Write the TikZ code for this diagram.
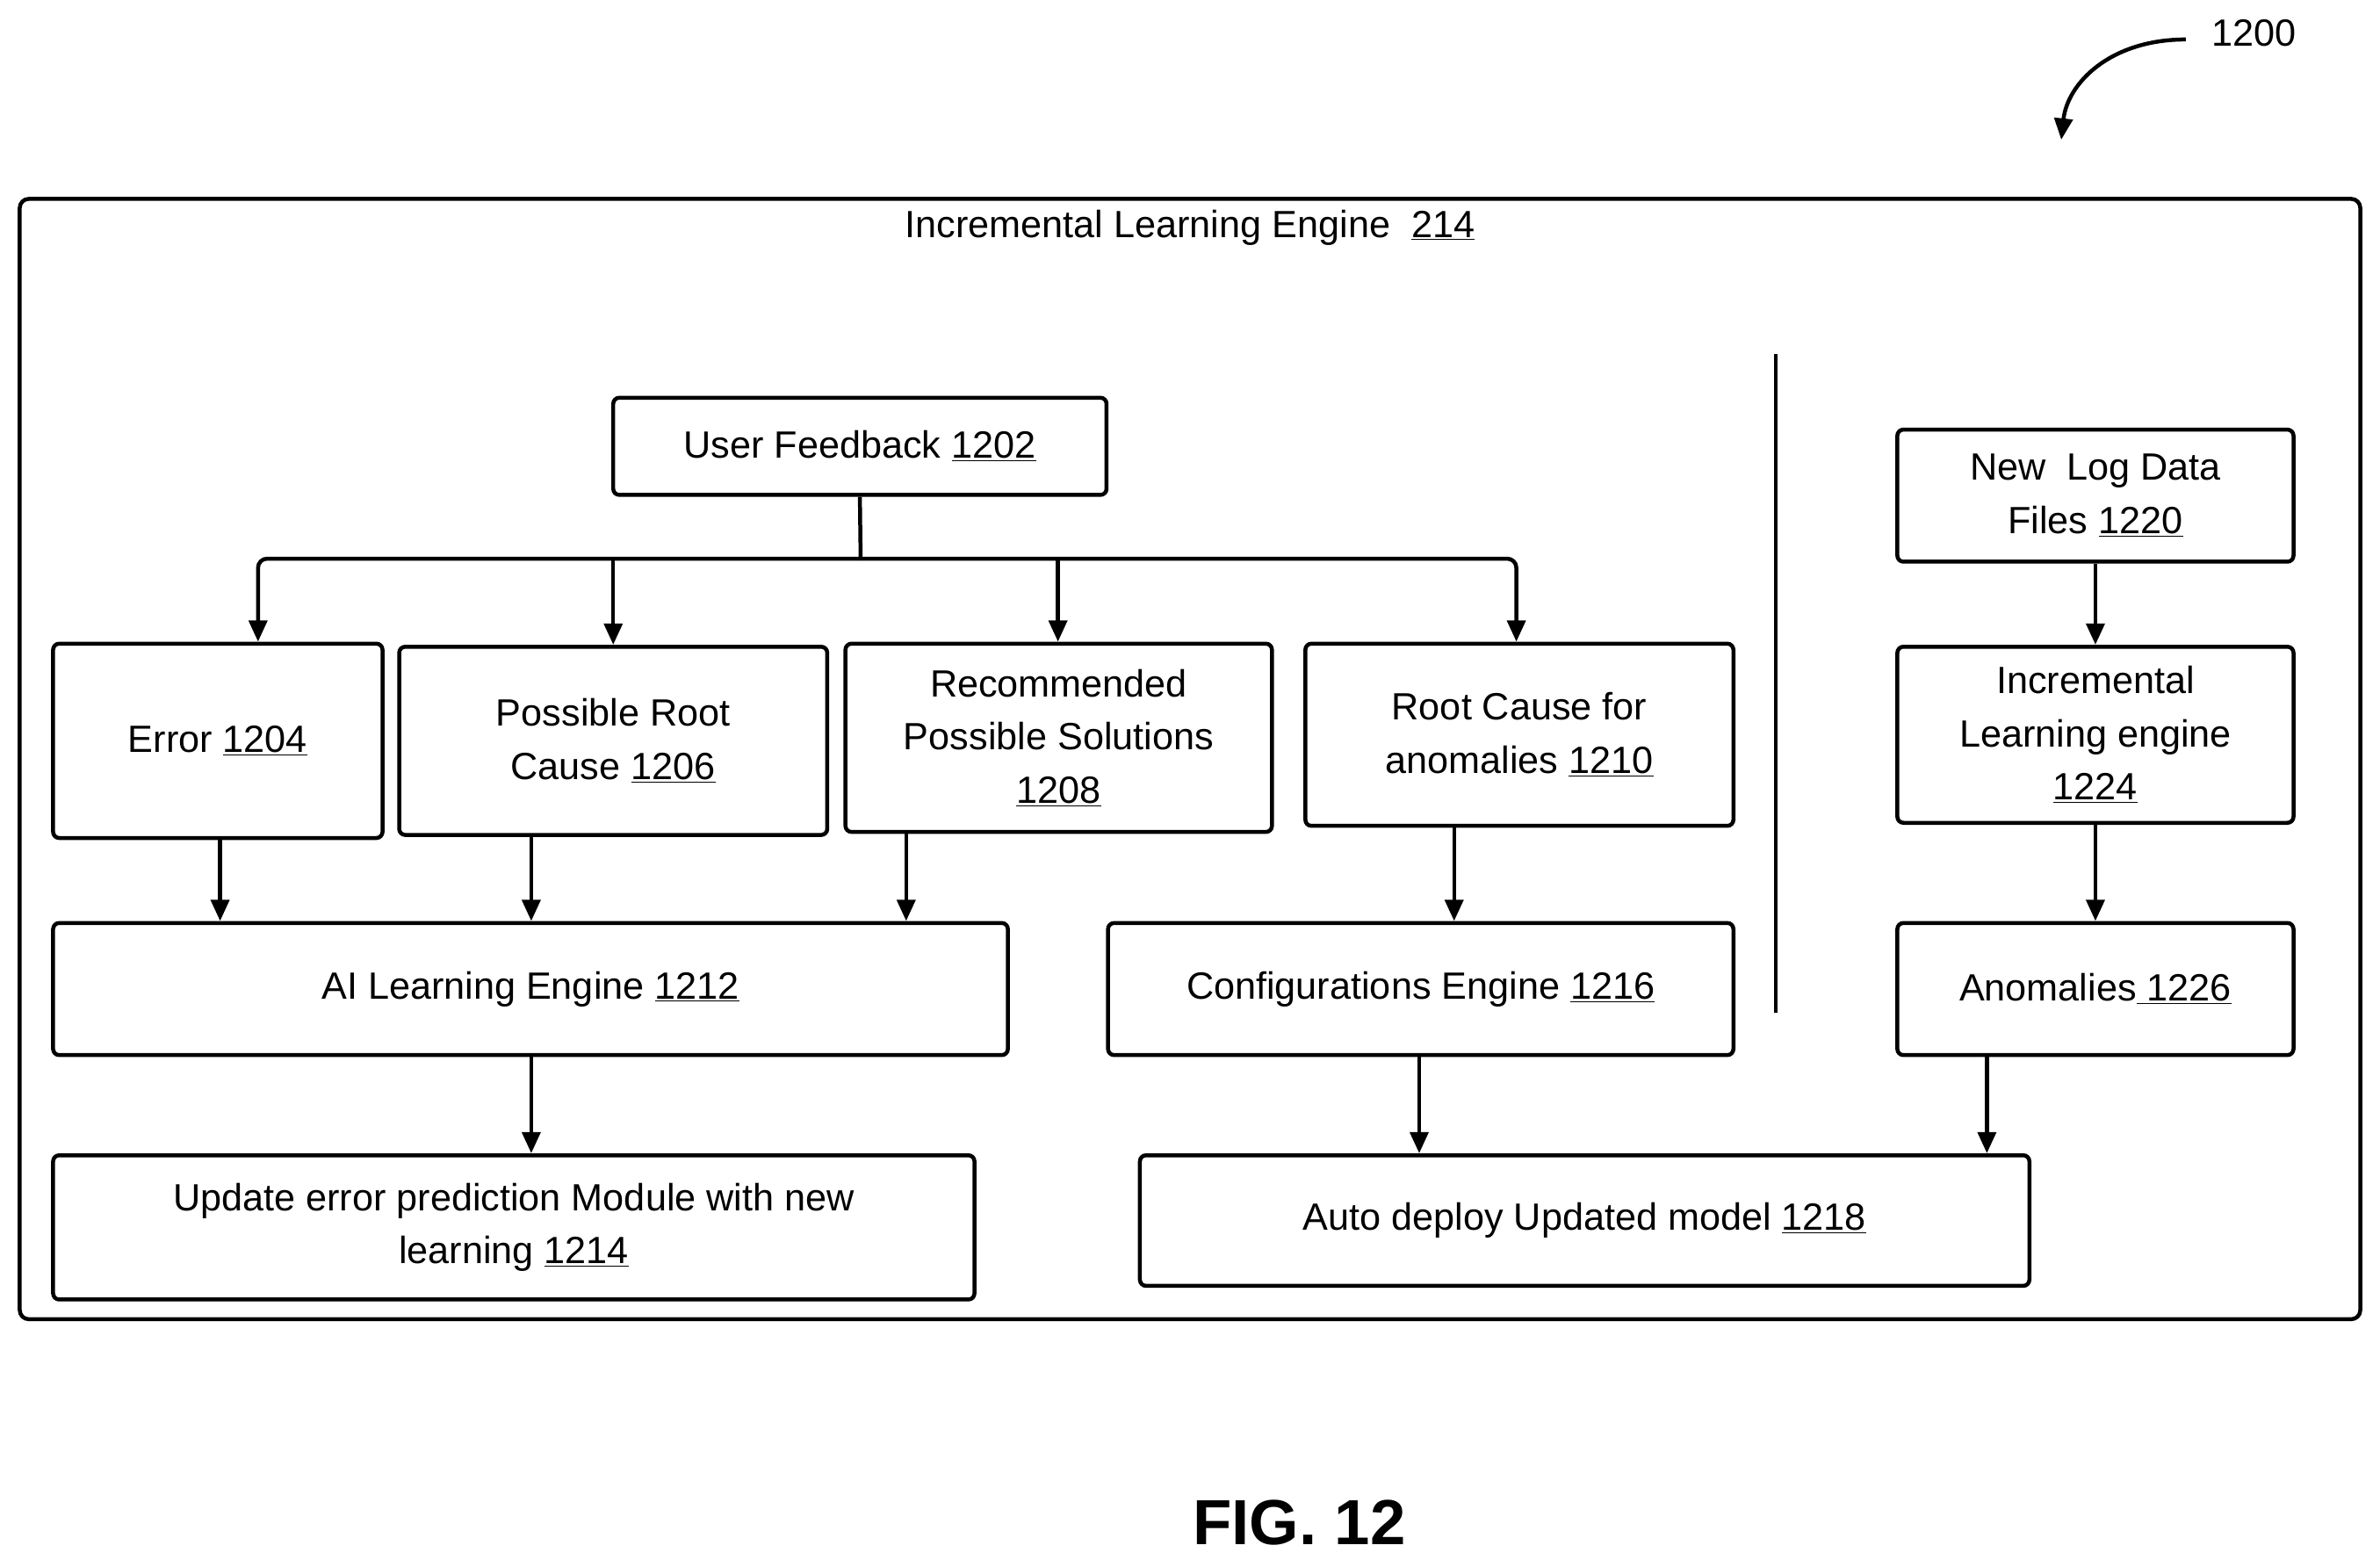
\documentclass[tikz,border=0pt]{standalone}
\usepackage{fontspec}
\setmainfont{Liberation Sans}
\usetikzlibrary{arrows.meta}
\begin{document}
\begin{tikzpicture}[x=1pt,y=-1pt,
 box/.style={draw,line width=2.6pt,rounded corners=4pt,align=center,inner sep=0pt,font=\fontsize{25}{35}\selectfont},
 arr/.style={line width=2.6pt,-{Triangle[length=14pt,width=12pt]}},
 lbl/.style={font=\fontsize{25}{35}\selectfont,inner sep=0pt}]
\useasboundingbox (0,0) rectangle (1568,1032);
\newcommand{\bx}[6]{\node[box,minimum width=#4-#2,minimum height=#5-#3] (#1) at ({(#2+#4)/2},{(#3+#5)/2}) {#6};}
\draw[line width=2.6pt,rounded corners=6pt] (13,131) rectangle (1555,869);
\node[lbl] (title) at (784,150) {Incremental Learning Engine\ \ \underline{214}};
\bx{uf}{404}{262}{729}{326}{User Feedback \underline{1202}}
\bx{err}{35}{424}{252}{552}{Error \underline{1204}}
\bx{prc}{263}{426}{545}{550}{Possible Root\\Cause \underline{1206}}
\bx{rec}{557}{424}{838}{548}{Recommended\\Possible Solutions\\\underline{1208}}
\bx{rca}{860}{424}{1142}{544}{Root Cause for\\anomalies \underline{1210}}
\bx{ai}{35}{608}{664}{695}{AI Learning Engine \underline{1212}}
\bx{cfg}{730}{608}{1142}{695}{Configurations Engine \underline{1216}}
\bx{upd}{35}{761}{642}{856}{Update error prediction Module with new\\learning \underline{1214}}
\bx{auto}{751}{761}{1337}{847}{Auto deploy Updated model \underline{1218}}
\bx{log}{1250}{283}{1511}{370}{New\ \ Log Data\\Files \underline{1220}}
\bx{ile}{1250}{426}{1511}{542}{Incremental\\Learning engine\\\underline{1224}}
\bx{ano}{1250}{608}{1511}{695}{Anomalies\underline{\ 1226}}
\coordinate (vt) at (1170,233); \coordinate (vb) at (1170,667);
\draw[line width=2.6pt] (vt) -- (vb);
\coordinate (j) at (567,368);
\draw[line width=2.6pt,rounded corners=6pt] (uf.south) -- (j);
\draw[arr,rounded corners=6pt] (j) -| (err.north -| 170,0);
\draw[arr] (j -| prc.north) -- (prc.north);
\draw[arr] (j -| 697,0) -- (rec.north -| 697,0);
\draw[arr,rounded corners=6pt] (j) -| (rca.north -| 999,0);
\draw[arr] (err.south -| 145,0) -- (ai.north -| 145,0);
\draw[arr] (prc.south -| 350,0) -- (ai.north -| 350,0);
\draw[arr] (rec.south -| 597,0) -- (ai.north -| 597,0);
\draw[arr] (rca.south -| 958,0) -- (cfg.north -| 958,0);
\draw[arr] (ai.south -| 350,0) -- (upd.north -| 350,0);
\draw[arr] (cfg.south -| 935,0) -- (auto.north -| 935,0);
\draw[arr] (ano.south -| 1309,0) -- (auto.north -| 1309,0);
\draw[arr] (log.south) -- (ile.north);
\draw[arr] (ile.south) -- (ano.north);
\node[lbl] (num) at (1485,22) {1200};
\coordinate (cs) at (1440,26);
\draw[arr] (cs) .. controls (1390,26) and (1362,55) .. (1358,92);
\node[font=\fontsize{42}{50}\selectfont\bfseries,inner sep=0pt] (fig) at (856,1003) {FIG. 12};
\end{tikzpicture}
\end{document}
